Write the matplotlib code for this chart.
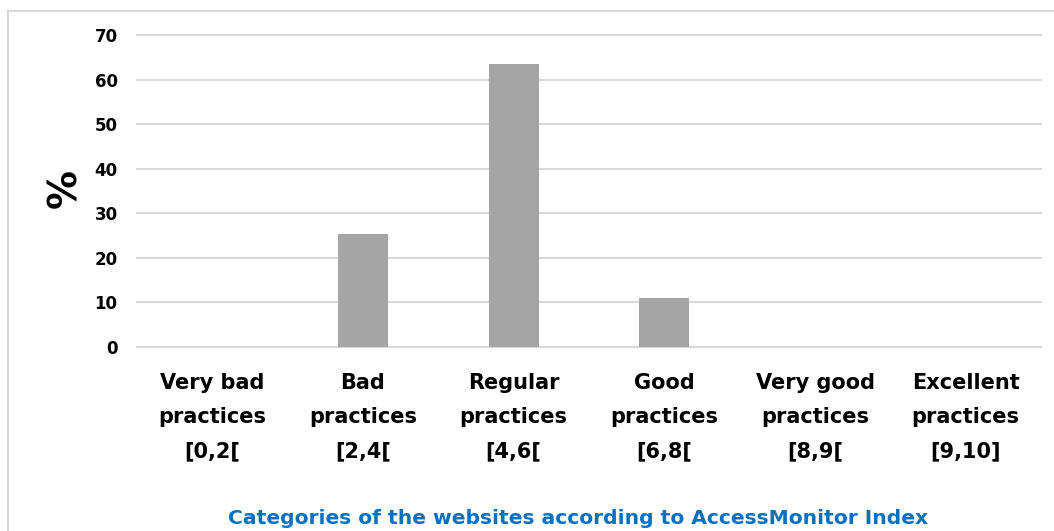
import numpy as np
import matplotlib
matplotlib.use("Agg")
import matplotlib.pyplot as plt
from matplotlib.patches import Rectangle

categories = ["Very bad\npractices\n[0,2[", "Bad\npractices\n[2,4[",
              "Regular\npractices\n[4,6[", "Good\npractices\n[6,8[",
              "Very good\npractices\n[8,9[", "Excellent\npractices\n[9,10]"]
percent = [0.0, 25.3, 63.6, 11.1, 0.0, 0.0]
yticks = [0, 10, 20, 30, 40, 50, 60, 70]

plt.rcParams["font.family"] = ["DejaVu Sans"]
plt.rcParams["font.weight"] = "bold"

W, H = 1054, 531
fig = plt.figure(figsize=(W / 100, H / 100), dpi=100)
fig.patch.set_facecolor("white")

# outer chart border (runs off the right and bottom edges)
fig.patches.append(Rectangle((8 / W, -0.1), 1.2, 1 - 11 / H + 0.1,
                             transform=fig.transFigure, fill=False,
                             edgecolor="#d9d9d9", lw=1.5))

ax = fig.add_axes([137 / W, 1 - 347 / H, (1041 - 137) / W, (347 - 35) / H])
x = np.arange(len(categories))
ax.bar(x, percent, width=0.33, color="#a5a5a5", zorder=3)
ax.set_xlim(-0.5, len(categories) - 0.5)
ax.set_ylim(0, 70)
ax.set_yticks(yticks)
ax.set_yticklabels([str(v) for v in yticks], fontsize=12, fontweight="bold")
ax.set_xticks(x)
ax.set_xticklabels(categories, fontsize=15, fontweight="bold",
                   linespacing=1.88)
ax.tick_params(axis="both", length=0)
ax.tick_params(axis="y", pad=14)
ax.tick_params(axis="x", pad=19)
for v in yticks:
    ax.axhline(v, color="#d9d9d9", lw=1.5, zorder=0, clip_on=False)
for s in ax.spines.values():
    s.set_visible(False)

fig.text(65 / W, 1 - 189 / H, "%", rotation=90, fontsize=28,
         fontweight="bold", ha="center", va="center")
fig.text(578 / W, 1 - 519 / H,
         "Categories of the websites according to AccessMonitor Index",
         color="#0070c0", fontsize=14.6, fontweight="bold",
         ha="center", va="center")

fig.savefig("out.png", dpi=100)
